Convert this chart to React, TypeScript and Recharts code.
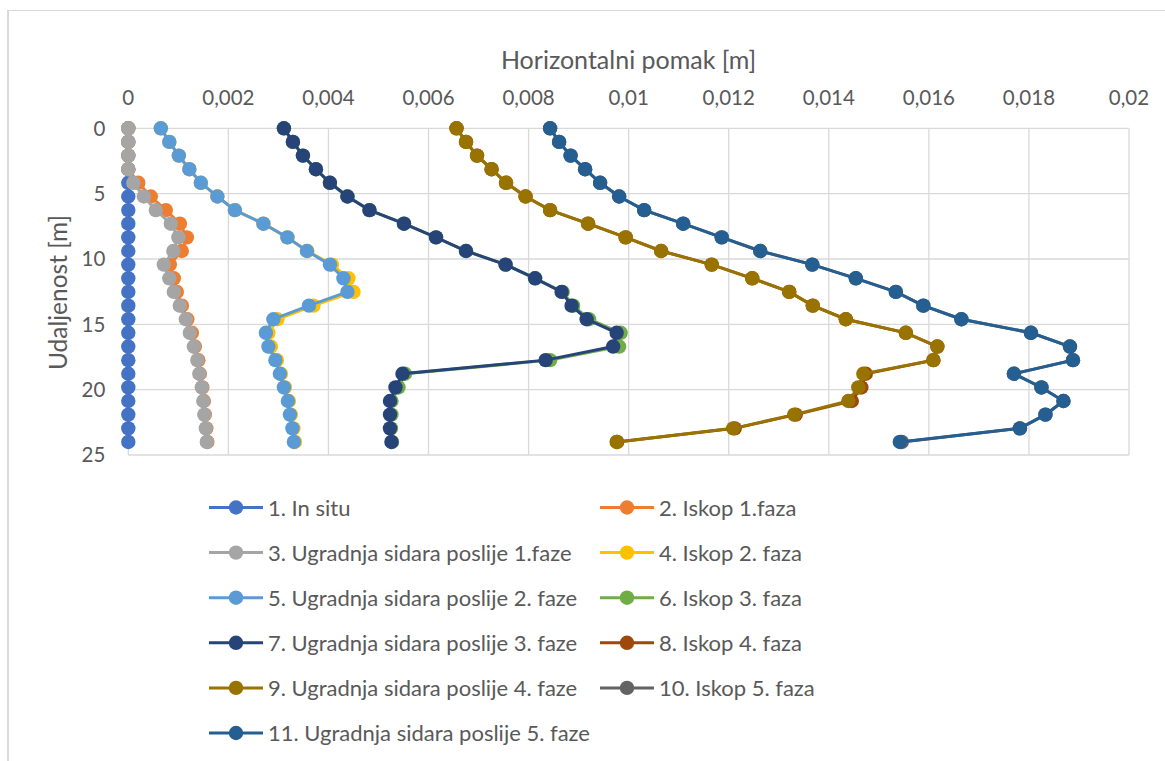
import { CartesianGrid, Scatter, ScatterChart, XAxis, YAxis } from "recharts";

const DEPTH = [
  0, 1.04, 2.09, 3.13, 4.17, 5.22, 6.26, 7.3, 8.35, 9.39, 10.43, 11.48, 12.52, 13.57, 14.61, 15.65, 16.7,
  17.74, 18.78, 19.83, 20.87, 21.91, 22.96, 24,
];

const IN_SITU = [0, 0, 0, 0, 0, 0, 0, 0, 0, 0, 0, 0, 0, 0, 0, 0, 0, 0, 0, 0, 0, 0, 0, 0];
const ISKOP_1 = [
  0, 0, 0, 0, 0.0002, 0.00045, 0.00075, 0.00103, 0.00117, 0.00107, 0.00083, 0.00091, 0.00097, 0.00107,
  0.00118, 0.00127, 0.00133, 0.0014, 0.00143, 0.00148, 0.00151, 0.00153, 0.00156, 0.00158,
];
const SIDRA_1 = [
  0, 0, 0, 0, 0.0001, 0.00031, 0.00055, 0.00085, 0.001, 0.0009, 0.00071, 0.00082, 0.00091, 0.00103,
  0.00115, 0.00123, 0.00131, 0.00138, 0.00142, 0.00147, 0.0015, 0.00152, 0.00155, 0.00157,
];
const ISKOP_2 = [
  0.00065, 0.00082, 0.00101, 0.00122, 0.00145, 0.00178, 0.00213, 0.0027, 0.00318, 0.00358, 0.00407, 0.0044,
  0.0045, 0.0037, 0.00298, 0.0028, 0.00285, 0.00297, 0.00305, 0.00313, 0.00321, 0.00325, 0.0033, 0.00333,
];
const SIDRA_2 = [
  0.00065, 0.00082, 0.00101, 0.00122, 0.00145, 0.00178, 0.00213, 0.0027, 0.00318, 0.00357, 0.00403, 0.0043,
  0.00438, 0.00361, 0.0029, 0.00275, 0.0028, 0.00294, 0.00303, 0.00311, 0.00319, 0.00323, 0.00328, 0.00331,
];
const ISKOP_3 = [
  0.00311, 0.00329, 0.00349, 0.00375, 0.00403, 0.00438, 0.00482, 0.00551, 0.00615, 0.00675, 0.00754, 0.00813,
  0.00868, 0.00889, 0.00921, 0.00984, 0.00981, 0.00843, 0.00553, 0.0054, 0.00526, 0.00526, 0.00525, 0.00527,
];
const SIDRA_3 = [
  0.00311, 0.00329, 0.00349, 0.00375, 0.00403, 0.00438, 0.00482, 0.00551, 0.00615, 0.00675, 0.00754, 0.00813,
  0.00866, 0.00886, 0.00916, 0.00976, 0.00969, 0.00834, 0.00548, 0.00534, 0.00523, 0.00523, 0.00523, 0.00526,
];
const ISKOP_4 = [
  0.00656, 0.00675, 0.00697, 0.00726, 0.00755, 0.00794, 0.00843, 0.00919, 0.00994, 0.01065, 0.01166, 0.01247,
  0.01321, 0.01368, 0.01434, 0.01554, 0.01617, 0.01609, 0.01474, 0.01465, 0.01446, 0.01334, 0.01212, 0.00977,
];
const SIDRA_4 = [
  0.00656, 0.00675, 0.00697, 0.00726, 0.00755, 0.00794, 0.00843, 0.00919, 0.00994, 0.01065, 0.01166, 0.01247,
  0.01321, 0.01368, 0.01434, 0.01554, 0.01617, 0.01609, 0.01469, 0.01459, 0.01439, 0.01331, 0.01209, 0.00976,
];
const ISKOP_5 = [
  0.00843, 0.00861, 0.00884, 0.00913, 0.00943, 0.00981, 0.01031, 0.01109, 0.01186, 0.01263, 0.01367, 0.01454,
  0.01534, 0.01589, 0.01665, 0.01804, 0.01882, 0.01888, 0.0177, 0.01825, 0.01869, 0.01833, 0.01782, 0.01546,
];
const SIDRA_5 = [
  0.00843, 0.00861, 0.00884, 0.00913, 0.00943, 0.00981, 0.01031, 0.01109, 0.01186, 0.01263, 0.01367, 0.01454,
  0.01534, 0.01589, 0.01665, 0.01804, 0.01882, 0.01888, 0.0177, 0.01825, 0.01869, 0.01833, 0.01782, 0.01542,
];

const SERIES_NAMES = [
  "1. In situ",
  "2. Iskop 1.faza",
  "3. Ugradnja sidara poslije 1.faze",
  "4. Iskop 2. faza",
  "5. Ugradnja sidara poslije 2. faze",
  "6. Iskop 3. faza",
  "7. Ugradnja sidara poslije 3. faze",
  "8. Iskop 4. faza",
  "9. Ugradnja sidara poslije 4. faze",
  "10. Iskop 5. faza",
  "11. Ugradnja sidara poslije 5. faze",
];
const SERIES_VALUES = [IN_SITU, ISKOP_1, SIDRA_1, ISKOP_2, SIDRA_2, ISKOP_3, SIDRA_3, ISKOP_4, SIDRA_4, ISKOP_5, SIDRA_5];
const SERIES_COLORS = [
  "#4472C4", "#ED7D31", "#A5A5A5", "#FFC000", "#5B9BD5", "#70AD47",
  "#264478", "#9E480E", "#997300", "#636363", "#255E91",
];

const X_TICKS = [0, 0.002, 0.004, 0.006, 0.008, 0.01, 0.012, 0.014, 0.016, 0.018, 0.02];
const Y_TICKS = [0, 5, 10, 15, 20, 25];
const X_TITLE = "Horizontalni pomak [m]";
const Y_TITLE = "Udaljenost [m]";

const TEXT = "#595959";
const GRID = "#D9D9D9";
const FONT = "Lato, 'Open Sans', sans-serif";

const series = SERIES_NAMES.map((name, i) => ({
  name,
  color: SERIES_COLORS[i],
  data: DEPTH.map((depth, j) => ({ x: SERIES_VALUES[i][j], y: depth })),
}));

const dot = (color: string) => (props: any) => <circle cx={props.cx} cy={props.cy} r={7.2} fill={color} />;

export default function App() {
  return (
    <div style={{ position: "fixed", left: 0, top: 0, width: 1165, height: 761, background: "#fff", fontFamily: FONT }}>
      <div
        style={{
          position: "absolute",
          left: 7,
          top: 10,
          width: 1200,
          height: 800,
          borderLeft: `2px solid ${GRID}`,
          borderTop: `1px solid ${GRID}`,
        }}
      />
      <div style={{ position: "absolute", left: 0, top: 0 }}>
        <ScatterChart width={1165} height={470} margin={{ top: 68.3, right: 36, bottom: 15, left: 28.3 }}>
          <CartesianGrid stroke={GRID} strokeWidth={1.3} />
          <XAxis
            dataKey="x"
            type="number"
            orientation="top"
            domain={[0, 0.02]}
            ticks={X_TICKS}
            height={60}
            axisLine={false}
            tickLine={false}
            tickSize={0}
            tickMargin={23}
            tick={{ fill: TEXT, fontSize: 20.5, fontFamily: FONT }}
            tickFormatter={(v) => String(v).replace(".", ",")}
            interval={0}
          />
          <YAxis
            dataKey="y"
            type="number"
            reversed
            domain={[0, 25]}
            ticks={Y_TICKS}
            width={100}
            axisLine={false}
            tickLine={false}
            tickSize={0}
            tickMargin={23}
            tick={{ fill: TEXT, fontSize: 20.5, fontFamily: FONT }}
            interval={0}
          />
          {series.map((s) => (
            <Scatter
              key={s.name}
              name={s.name}
              data={s.data}
              fill={s.color}
              line={{ stroke: s.color, strokeWidth: 3 }}
              shape={dot(s.color)}
              isAnimationActive={false}
            />
          ))}
        </ScatterChart>
      </div>
      <svg width={1165} height={761} style={{ position: "absolute", left: 0, top: 0, pointerEvents: "none" }}>
        <text x={628.6} y={69} textAnchor="middle" fill={TEXT} fontSize={25} fontFamily={FONT}>
          {X_TITLE}
        </text>
        <text
          x={0}
          y={0}
          transform="translate(67,292.5) rotate(-90)"
          textAnchor="middle"
          fill={TEXT}
          fontSize={24.5}
          fontFamily={FONT}
        >
          {Y_TITLE}
        </text>
        {series.map((s, i) => {
          const col = i % 2;
          const row = Math.floor(i / 2);
          const x0 = col === 0 ? 209 : 600;
          const cy = 507.5 + row * 45.1;
          return (
            <g key={s.name}>
              <line x1={x0} x2={x0 + 54} y1={cy} y2={cy} stroke={s.color} strokeWidth={3} />
              <circle cx={x0 + 27} cy={cy} r={7.2} fill={s.color} />
              <text x={x0 + 59} y={cy + 8} fill={TEXT} fontSize={22} fontFamily={FONT}>
                {s.name}
              </text>
            </g>
          );
        })}
      </svg>
    </div>
  );
}
